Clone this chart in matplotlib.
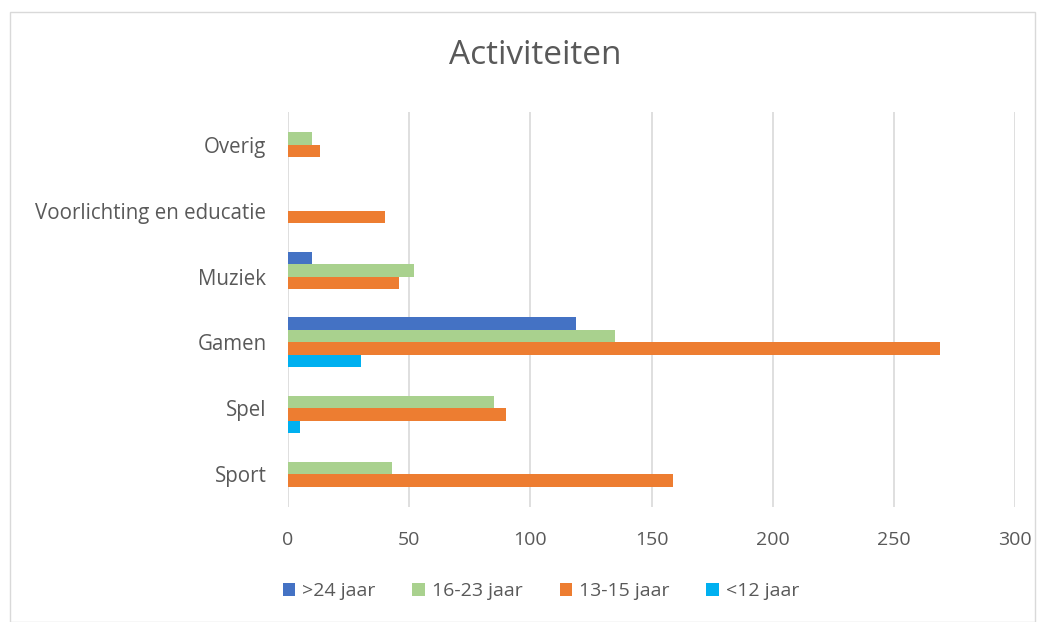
import matplotlib
matplotlib.use("Agg")
import matplotlib.pyplot as plt
import numpy as np

categories = ["Sport", "Spel", "Gamen", "Muziek", "Voorlichting en educatie", "Overig"]
series_names = [">24 jaar", "16-23 jaar", "13-15 jaar", "<12 jaar"]
v_over24 = [0, 0, 119, 10, 0, 0]
v_16_23 = [43, 85, 135, 52, 0, 10]
v_13_15 = [159, 90, 269, 46, 40, 13]
v_under12 = [0, 5, 30, 0, 0, 0]
colors = ["#4472C4", "#A9D18E", "#ED7D31", "#00B0F0"]
xticks = [0, 50, 100, 150, 200, 250, 300]

plt.rcParams['font.family'] = ['Open Sans', 'DejaVu Sans']
txt = "#595959"

fig = plt.figure(figsize=(10.48, 6.22), dpi=100)
ax = fig.add_axes([288/1048, 1-507/622, (1015-288)/1048, (507-112)/622])

y = np.arange(len(categories))
h = 0.19
all_vals = [v_over24, v_16_23, v_13_15, v_under12]
offsets = [1.5, 0.5, -0.5, -1.5]
for vals, off, c, name in zip(all_vals, offsets, colors, series_names):
    ax.barh(y + off*h, vals, height=h, color=c, label=name, zorder=3)

ax.set_xlim(0, 300)
ax.set_ylim(-0.5, len(categories)-0.5)
ax.set_xticks(xticks)
ax.set_xticklabels([str(t) for t in xticks], fontsize=14, color=txt)
ax.set_yticks(y)
ax.set_yticklabels(categories, fontsize=14.8, color=txt)
ax.tick_params(axis='both', length=0)
ax.tick_params(axis='x', pad=17.5)
ax.tick_params(axis='y', pad=15.5)
ax.xaxis.grid(True, color="#D9D9D9", linewidth=1.2, zorder=0)
for s in ax.spines.values():
    s.set_visible(False)

fig.text(535/1048, 1-55/622, "Activiteiten", ha='center', va='center', fontsize=24, color=txt)

handles, labels = ax.get_legend_handles_labels()
fig.legend(handles, labels, loc='center', bbox_to_anchor=(541/1048, 1-591/622), ncol=4,
           frameon=False, fontsize=14, labelcolor=txt, handlelength=0.65, handleheight=0.65,
           handletextpad=0.35, columnspacing=1.9)

border = plt.Rectangle((10/1048, 0.0), (1035-10)/1048, 1-12/622, transform=fig.transFigure,
                       fill=False, edgecolor="#D9D9D9", linewidth=1)
fig.add_artist(border)

fig.savefig("out.png", dpi=100)
